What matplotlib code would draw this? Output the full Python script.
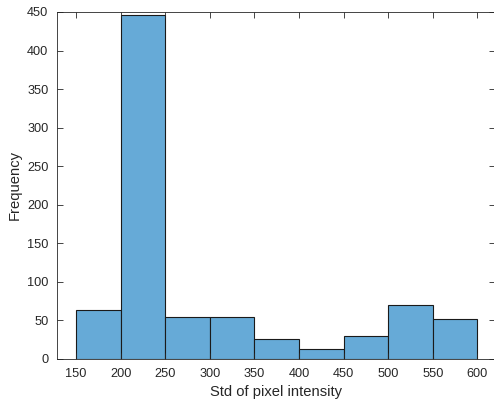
import matplotlib
matplotlib.use("Agg")
import matplotlib.pyplot as plt
import numpy as np

bin_edges = [150, 200, 250, 300, 350, 400, 450, 500, 550, 600]
counts = [63, 446, 54, 54, 25, 13, 29, 70, 51]
x_ticks = [150, 200, 250, 300, 350, 400, 450, 500, 550, 600]
y_ticks = [0, 50, 100, 150, 200, 250, 300, 350, 400, 450]

plt.rcParams['font.family'] = ['Liberation Sans', 'DejaVu Sans']
axc = '#262626'

fig = plt.figure(figsize=(4.94, 4.08), dpi=100)
ax = fig.add_axes([0.1148, 0.1208, 0.8870, 0.8498])

edges = np.array(bin_edges)
ax.hist(edges[:-1], bins=edges, weights=counts,
        color='#66AAD7', edgecolor='#1a1a1a', linewidth=0.8)

ax.set_xlim(128.4, 619.5)
ax.set_ylim(0, 450)
ax.set_xticks(x_ticks)
ax.set_yticks(y_ticks)
ax.tick_params(direction='in', top=True, right=True, length=4, width=0.6,
               colors=axc, labelsize=9.2, pad=6)
ax.tick_params(axis='x', pad=7)
for s in ax.spines.values():
    s.set_color(axc)
    s.set_linewidth(0.6)
ax.set_xlabel('Std of pixel intensity', fontsize=10.6, color=axc, labelpad=3)
ax.set_ylabel('Frequency', fontsize=10.6, color=axc, labelpad=4)

fig.savefig('out.png', dpi=100)
